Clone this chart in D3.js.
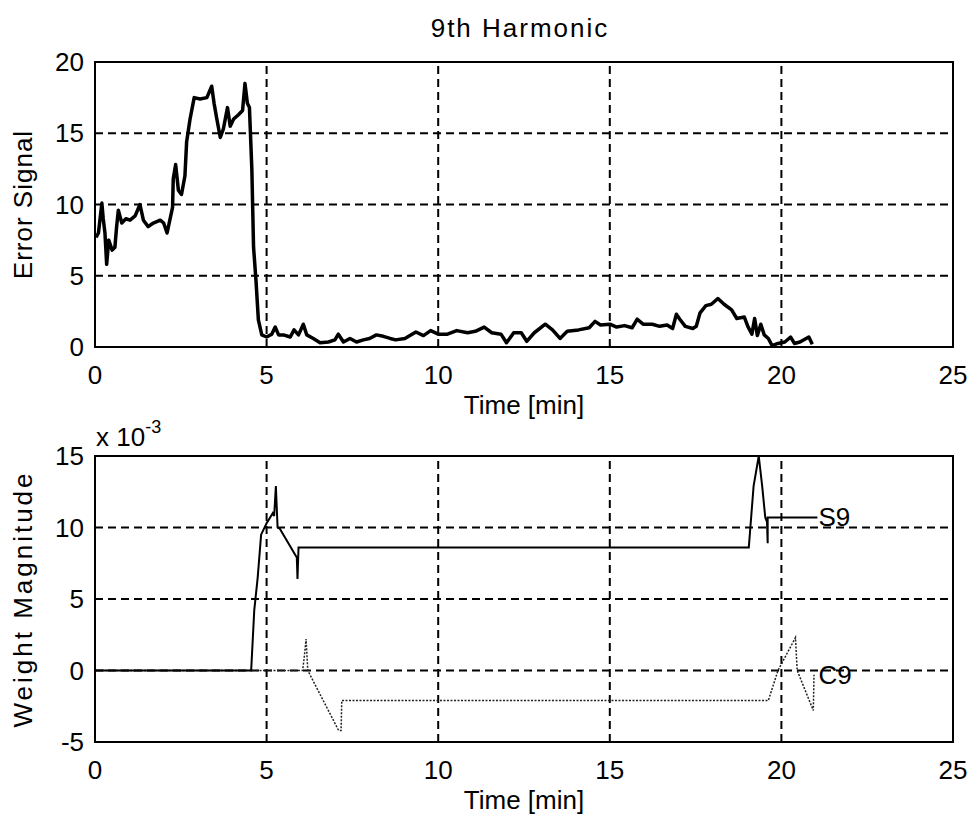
<!DOCTYPE html>
<html>
<head>
<meta charset="utf-8">
<script src="https://cdn.jsdelivr.net/npm/d3@7"></script>
<style>
  html, body { margin: 0; padding: 0; background: #fff; }
  svg text { font-family: "Liberation Sans", Arial, sans-serif; fill: #000; }
</style>
</head>
<body>
<svg id="chart" width="979" height="829"></svg>
<script>
// ---------- data ----------
const titleText = "9th Harmonic";
const xTicks = [0, 5, 10, 15, 20, 25];
const topYTicks = [0, 5, 10, 15, 20];
const botYTicks = [-5, 0, 5, 10, 15];

// Error signal (top panel): time [min], value
const errTime = [0.03,0.1,0.2,0.24,0.29,0.34,0.4,0.5,0.58,0.63,0.68,0.78,0.9,1.02,1.17,1.31,1.41,1.55,1.7,1.9,2.0,2.1,2.18,2.26,2.28,2.35,2.43,2.52,2.62,2.67,2.77,2.89,3.06,3.26,3.4,3.47,3.55,3.65,3.74,3.86,3.94,4.04,4.18,4.3,4.37,4.44,4.5,4.57,4.62,4.69,4.76,4.86,5.0,5.15,5.25,5.35,5.49,5.69,5.8,5.93,6.07,6.17,6.36,6.56,6.8,6.99,7.09,7.24,7.43,7.62,7.82,8.0,8.2,8.4,8.6,8.76,9.03,9.35,9.57,9.78,10.0,10.27,10.54,10.86,11.08,11.34,11.56,11.83,11.99,12.2,12.42,12.58,12.8,13.12,13.33,13.55,13.76,14.09,14.4,14.57,14.73,15.0,15.2,15.43,15.65,15.8,15.97,16.24,16.45,16.67,16.83,16.94,17.04,17.2,17.42,17.52,17.63,17.8,17.96,18.15,18.33,18.55,18.7,18.92,19.03,19.14,19.22,19.3,19.4,19.5,19.62,19.73,19.9,20.1,20.27,20.38,20.54,20.8,20.9];
const errValue = [7.7,8.0,10.1,9.0,8.0,5.8,7.5,6.8,7.0,8.45,9.6,8.7,9.0,8.9,9.2,10.0,8.9,8.45,8.7,8.9,8.7,8.0,8.9,9.8,11.8,12.8,11.0,10.7,12.0,14.4,16.0,17.5,17.4,17.5,18.3,17.1,16.0,14.7,15.3,16.8,15.5,16.0,16.3,16.6,18.5,17.1,16.8,12.5,7.0,4.7,1.9,0.85,0.7,0.9,1.4,0.85,0.85,0.7,1.2,0.85,1.6,0.85,0.6,0.3,0.35,0.5,0.9,0.35,0.6,0.35,0.5,0.6,0.85,0.75,0.6,0.5,0.6,1.05,0.8,1.15,0.9,0.9,1.15,1.0,1.1,1.4,1.0,0.9,0.3,1.0,1.0,0.4,1.0,1.6,1.2,0.6,1.1,1.2,1.35,1.8,1.55,1.6,1.4,1.5,1.35,1.95,1.6,1.6,1.45,1.55,1.3,2.3,1.95,1.45,1.3,1.45,2.4,2.9,3.0,3.4,3.0,2.6,2.0,2.1,1.4,0.9,2.0,0.8,1.6,0.85,0.6,0.1,0.25,0.35,0.7,0.25,0.35,0.7,0.2];

// Weight magnitudes (bottom panel), values x 10^-3
const s9Time  = [0,4.55,4.64,4.74,4.84,5.0,5.18,5.22,5.27,5.32,5.39,5.88,5.9,5.93,19.05,19.19,19.34,19.44,19.53,19.58,19.6,19.6,21.05];
const s9Value = [0,0,4.2,6.5,9.5,10.3,11.0,10.8,12.9,10.0,9.9,7.9,6.4,8.6,8.6,12.9,15.0,12.9,10.7,10.4,8.9,10.7,10.7];
const c9Time  = [0,6.05,6.1,6.15,6.2,7.1,7.17,7.19,19.62,19.9,20.41,20.46,20.93,20.95];
const c9Value = [0,0,1.0,2.2,0.0,-4.2,-4.2,-2.1,-2.1,0,2.3,0.0,-2.8,-0.3];

const seriesLabels = ["S9", "C9"];

// ---------- layout ----------
const svg = d3.select("#chart");
const X0 = 95, X1 = 953;
const x = d3.scaleLinear().domain([0, 25]).range([X0, X1]);
const yTop = d3.scaleLinear().domain([0, 20]).range([347, 62]);
const yBot = d3.scaleLinear().domain([-5, 15]).range([742, 456]);

const FS = 26;

function panel(y, yTicks, xLabelY, titleY, yTitleText, yTitleSpacing) {
  const g = svg.append("g");
  const [ya, yb] = y.range();
  // grid (interior ticks only)
  xTicks.filter(t => t > 0 && t < 25).forEach(t => {
    g.append("line").attr("x1", x(t)).attr("x2", x(t)).attr("y1", ya).attr("y2", yb)
      .attr("stroke", "#000").attr("stroke-width", 2).attr("stroke-dasharray", "8,5");
  });
  const yd = y.domain();
  yTicks.filter(t => t > yd[0] && t < yd[1]).forEach(t => {
    g.append("line").attr("x1", X0).attr("x2", X1).attr("y1", y(t)).attr("y2", y(t))
      .attr("stroke", "#000").attr("stroke-width", 2).attr("stroke-dasharray", "8,5");
  });
  // y tick labels
  yTicks.forEach(t => {
    g.append("text").attr("x", X0 - 11).attr("y", y(t) + 9)
      .attr("text-anchor", "end").attr("font-size", FS).text(t);
  });
  // x tick labels
  xTicks.forEach(t => {
    g.append("text").attr("x", x(t)).attr("y", xLabelY + 9)
      .attr("text-anchor", "middle").attr("font-size", FS).text(t);
  });
  // x title
  g.append("text").attr("x", 524).attr("y", titleY + 9)
    .attr("text-anchor", "middle").attr("font-size", FS).text("Time [min]");
  // y title
  const cy = (ya + yb) / 2;
  g.append("text").attr("transform", `translate(32,${cy}) rotate(-90)`)
    .attr("text-anchor", "middle").attr("font-size", FS)
    .attr("letter-spacing", yTitleSpacing).text(yTitleText);
  return g;
}

panel(yTop, topYTicks, 375, 405, "Error Signal", 1);
panel(yBot, botYTicks, 770, 800, "Weight Magnitude", 3);

// title
svg.append("text").attr("x", 520).attr("y", 37).attr("text-anchor", "middle")
  .attr("font-size", FS).attr("letter-spacing", 2).text(titleText);

// exponent label
const ex = svg.append("text").attr("x", 96).attr("y", 446).attr("font-size", FS);
ex.append("tspan").text("x 10");
ex.append("tspan").attr("font-size", 18).attr("dy", -13).text("-3");

// lines
const line = (yS) => d3.line().x(d => x(d[0])).y(d => yS(d[1]));
const errData = errTime.map((t, i) => [t, errValue[i]]);
const s9Data = s9Time.map((t, i) => [t, s9Value[i]]);
const c9Data = c9Time.map((t, i) => [t, c9Value[i]]);

svg.append("path").datum(c9Data).attr("d", line(yBot)).attr("fill", "none")
  .attr("stroke", "#222").attr("stroke-width", 1.5).attr("stroke-dasharray", "2,1.5");
svg.append("path").datum(s9Data).attr("d", line(yBot)).attr("fill", "none")
  .attr("stroke", "#000").attr("stroke-width", 2);
svg.append("path").datum(errData).attr("d", line(yTop)).attr("fill", "none")
  .attr("stroke", "#000").attr("stroke-width", 3.5).attr("stroke-linejoin", "round");

// series labels
svg.append("text").attr("x", x(21.05) + 1).attr("y", yBot(10.7) + 9).attr("font-size", FS).text(seriesLabels[0]);
svg.append("text").attr("x", x(21.05) + 1).attr("y", yBot(-0.3) + 9).attr("font-size", FS).text(seriesLabels[1]);

// frames
[yTop, yBot].forEach(y => {
  const [ya, yb] = y.range();
  svg.append("rect").attr("x", X0).attr("y", yb).attr("width", X1 - X0).attr("height", ya - yb)
    .attr("fill", "none").attr("stroke", "#000").attr("stroke-width", 2);
});
</script>
</body>
</html>
